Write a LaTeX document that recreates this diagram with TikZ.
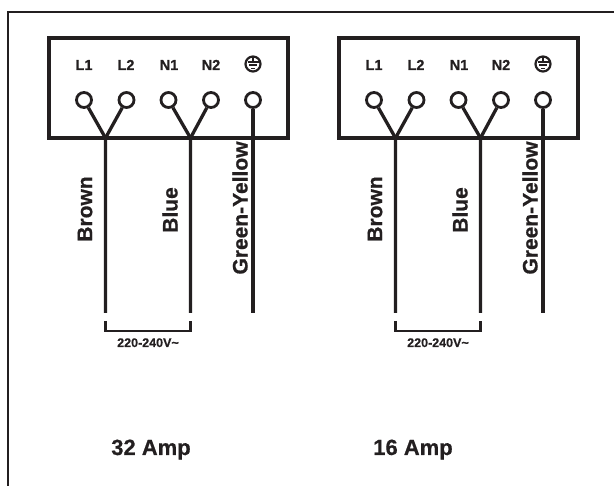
\documentclass[tikz,border=0pt]{standalone}
\usepackage{fontspec}
\setmainfont{Liberation Sans}[BoldFeatures={FakeBold=0.6}]
\definecolor{ink}{HTML}{231F20}
\tikzset{
  frame/.style={draw=ink, line width=2.8pt},
  tbox/.style={draw=ink, line width=3.2pt, minimum width=239pt, minimum height=100pt, inner sep=0pt},
  wire/.style={draw=ink, line width=3.3pt},
  terminal/.style={circle, draw=ink, line width=2.8pt, minimum size=15pt, inner sep=0pt},
  pinlabel/.style={font=\bfseries\fontsize{14.5}{14.5}\selectfont, text=ink, anchor=base},
  colourlabel/.style={font=\bfseries\fontsize{21}{21}\selectfont, text=ink, rotate=90},
  voltlabel/.style={font=\bfseries\fontsize{12.5}{12.5}\selectfont, text=ink, anchor=base},
  amplabel/.style={font=\bfseries\fontsize{22}{22}\selectfont, text=ink, anchor=base},
}
\begin{document}
\begin{tikzpicture}[x=1pt, y=-1pt]
    \useasboundingbox (0,0) rectangle (614,486);

    % Outer frame
    \draw[frame] (8,486) |- (614,12);

    \foreach \ox/\amp/\ax [count=\u] in {0/32/151, 290/16/123} {
      \begin{scope}[xshift=\ox]
        % Terminal block
        \node[tbox] (box-\u) at (168.5,88) {};
        \node[pinlabel] (lab-L1-\u) at (84,70) {L1};
        \node[pinlabel] (lab-L2-\u) at (126,70) {L2};
        \node[pinlabel] (lab-N1-\u) at (169,70) {N1};
        \node[pinlabel] (lab-N2-\u) at (211,70) {N2};

        % Earth symbol
        \node[circle, draw=ink, line width=2.2pt, minimum size=15pt, inner sep=0pt] (earth-\u) at (253,64) {};
        \draw[ink, line width=1.6pt] (253,56.5) -- (253,62)
          (247.5,62) -- (258.5,62) (249,65.3) -- (257,65.3) (250.8,68.5) -- (255.2,68.5);

        % Terminals
        \node[terminal] (L1-\u) at (84,100) {};
        \node[terminal] (L2-\u) at (126.5,100) {};
        \node[terminal] (N1-\u) at (168.5,100) {};
        \node[terminal] (N2-\u) at (211,100) {};
        \node[terminal] (E-\u) at (253,100) {};

        % Wires
        \coordinate (jL-\u) at (105.5,138);
        \coordinate (jN-\u) at (190.5,138);
        \coordinate (endL-\u) at (105.5,313);
        \coordinate (endN-\u) at (190.5,313);
        \coordinate (endE-\u) at (253,313);
        \draw[wire] (L1-\u) -- (jL-\u) -- (endL-\u);
        \draw[wire] (L2-\u) -- (jL-\u);
        \draw[wire] (N1-\u) -- (jN-\u) -- (endN-\u);
        \draw[wire] (N2-\u) -- (jN-\u);
        \draw[wire] (E-\u) -- (endE-\u);

        \node[colourlabel] (brown-\u) at (85,209) {Brown};
        \node[colourlabel] (blue-\u) at (170,210) {Blue};
        \node[colourlabel] (gy-\u) at (240,208) {Green-Yellow};

        % Supply bracket
        \coordinate (brA-\u) at (105.5,321);
        \coordinate (brB-\u) at (190.5,321);
        \draw[ink, line width=2.8pt] (brA-\u) -- ++(0,10) -| (brB-\u);
        \node[voltlabel] (volt-\u) at (148,347) {220-240V\textasciitilde};
      \end{scope}
      \node[amplabel] (amp-\u) at (\ax+\ox,455) {\amp\ Amp};
    }
\end{tikzpicture}
\end{document}
